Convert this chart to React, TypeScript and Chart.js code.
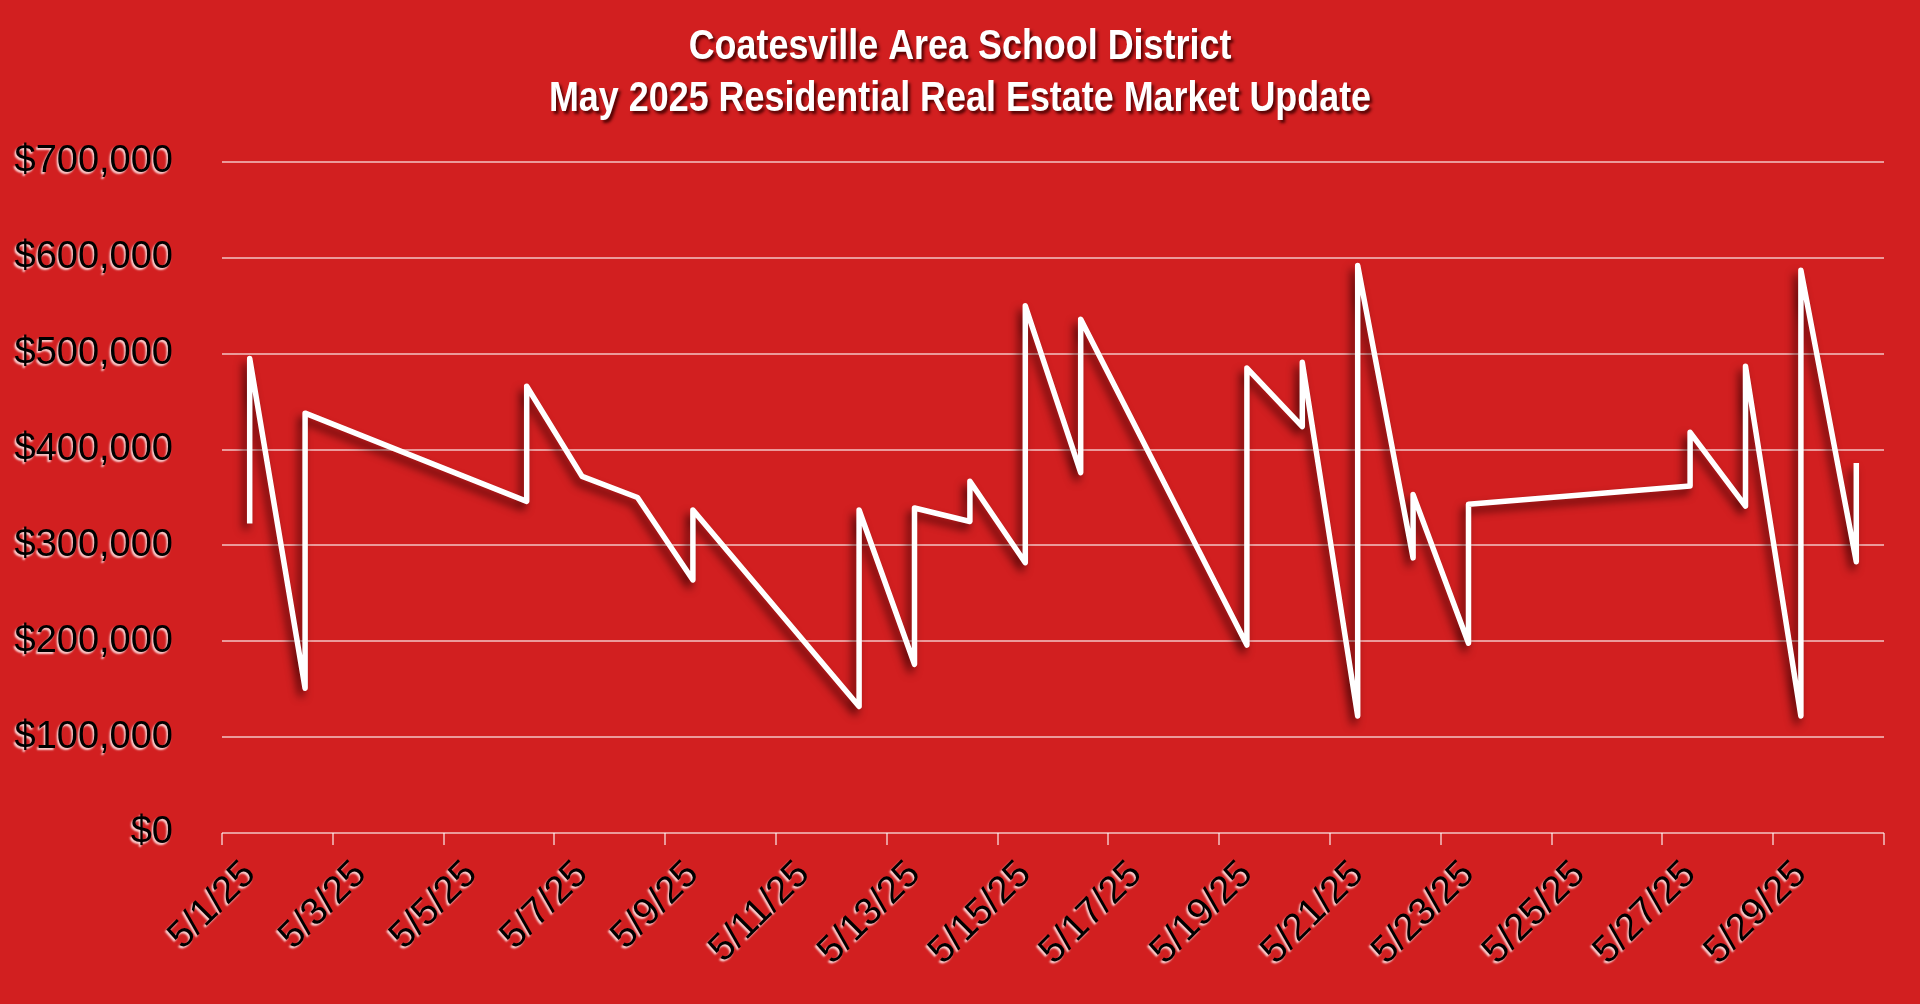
import React, { useEffect, useRef } from 'react';
import { Chart, registerables } from 'chart.js';

Chart.register(...registerables);

// ---- data ----
const TITLE_LINES = ['Coatesville Area School District', 'May 2025 Residential Real Estate Market Update'];

const DAY_LABELS = [
  '5/1/25', '5/2/25', '5/3/25', '5/4/25', '5/5/25', '5/6/25', '5/7/25', '5/8/25', '5/9/25', '5/10/25',
  '5/11/25', '5/12/25', '5/13/25', '5/14/25', '5/15/25', '5/16/25', '5/17/25', '5/18/25', '5/19/25', '5/20/25',
  '5/21/25', '5/22/25', '5/23/25', '5/24/25', '5/25/25', '5/26/25', '5/27/25', '5/28/25', '5/29/25', '5/30/25',
];

const SALE_DATES = [
  '5/1/25', '5/1/25', '5/2/25', '5/2/25', '5/6/25', '5/6/25', '5/7/25', '5/8/25', '5/9/25', '5/9/25',
  '5/12/25', '5/12/25', '5/13/25', '5/13/25', '5/14/25', '5/14/25', '5/15/25', '5/15/25', '5/16/25', '5/16/25',
  '5/19/25', '5/19/25', '5/20/25', '5/20/25', '5/21/25', '5/21/25', '5/22/25', '5/22/25', '5/23/25', '5/23/25',
  '5/27/25', '5/27/25', '5/28/25', '5/28/25', '5/29/25', '5/29/25', '5/30/25', '5/30/25',
];

const SALE_PRICES = [
  323000, 495000, 151000, 438000, 346000, 466000, 372000, 350000, 264000, 337000,
  132000, 337000, 176000, 339000, 325000, 367000, 282000, 550000, 376000, 536000,
  196000, 485000, 424000, 491000, 122000, 592000, 287000, 353000, 198000, 343000,
  362000, 418000, 341000, 487000, 122000, 587000, 283000, 386000,
];

const Y_MIN = 0;
const Y_MAX = 700000;
const Y_STEP = 100000;

// ---- styles ----
const BG = '#D21F20';
const GRID = 'rgba(255,255,255,0.55)';
const TITLE_FONT = "'Liberation Sans', Arial, sans-serif";
const TITLE_SQUEEZE = 0.835;
const AXIS_FONT = "'Liberation Sans', Arial, sans-serif";

const effectsPlugin = {
  id: 'effects',
  beforeDraw(chart: any) {
    const ctx = chart.ctx;
    ctx.save();
    ctx.fillStyle = BG;
    ctx.fillRect(0, 0, chart.width, chart.height);
    ctx.restore();
    Object.values(chart.scales).forEach((scale: any) => {
      if (scale.__wrapped) return;
      const orig = scale.drawLabels;
      scale.drawLabels = function (area: any) {
        const c = this.ctx;
        c.save();
        c.shadowColor = 'rgba(255,235,235,0.9)';
        c.shadowBlur = 2;
        c.shadowOffsetX = -1.5;
        c.shadowOffsetY = 2;
        orig.call(this, area);
        c.restore();
      };
      scale.__wrapped = true;
    });
    const tb = chart.titleBlock;
    if (tb && !tb.__wrapped) {
      const origT = tb.draw;
      tb.draw = function (area: any) {
        const c = this.ctx;
        const cx = (this.left + this.right) / 2;
        c.save();
        c.translate(this.chart.width / 2, 0);
        c.scale(TITLE_SQUEEZE, 1);
        c.translate(-cx, 0);
        c.shadowColor = 'rgba(70,0,0,0.9)';
        c.shadowBlur = 3;
        c.shadowOffsetX = 2.5;
        c.shadowOffsetY = 3;
        origT.call(this, area);
        c.restore();
      };
      tb.__wrapped = true;
    }
  },
  beforeDatasetsDraw(chart: any) {
    const ctx = chart.ctx;
    ctx.save();
    ctx.shadowColor = 'rgba(50,0,0,0.75)';
    ctx.shadowBlur = 9;
    ctx.shadowOffsetX = -4;
    ctx.shadowOffsetY = 6;
  },
  afterDatasetsDraw(chart: any) {
    chart.ctx.restore();
  },
};

export default function App() {
  const canvasRef = useRef<HTMLCanvasElement | null>(null);

  useEffect(() => {
    if (!canvasRef.current) return;
    const chart = new Chart(canvasRef.current, {
      type: 'line',
      data: {
        labels: DAY_LABELS,
        datasets: [
          {
            label: 'Sale Price',
            data: SALE_DATES.map((d, i) => ({ x: d, y: SALE_PRICES[i] })) as any,
            borderColor: '#FFFFFF',
            borderWidth: 5.5,
            pointRadius: 0,
            pointHoverRadius: 0,
            tension: 0,
            borderJoinStyle: 'round',
            fill: false,
          },
        ],
      },
      options: {
        animation: false,
        responsive: true,
        maintainAspectRatio: false,
        devicePixelRatio: 1,
        layout: { padding: { left: 0, right: 36, top: 0, bottom: 0 } },
        plugins: {
          legend: { display: false },
          tooltip: { enabled: false },
          title: {
            display: true,
            text: TITLE_LINES,
            color: '#FFFFFF',
            font: { family: TITLE_FONT, size: 43, weight: 'bold', lineHeight: 52 / 43 },
            padding: { top: 21.5, bottom: 36.5 },
          },
        },
        scales: {
          x: {
            type: 'category',
            offset: true,
            afterFit: (scale: any) => {
              scale.height = 171;
            },
            grid: {
              offset: true,
              drawOnChartArea: false,
              drawTicks: true,
              tickLength: 12,
              lineWidth: 2,
              color: (c: any) => (c.index === undefined || c.index % 2 === 0 ? GRID : 'rgba(0,0,0,0)'),
              tickColor: (c: any) => (c.index === undefined || c.index % 2 === 0 ? GRID : 'rgba(0,0,0,0)'),
            },
            border: { display: false },
            ticks: {
              autoSkip: false,
              minRotation: 45,
              maxRotation: 45,
              padding: 7,
              color: '#000000',
              font: { family: AXIS_FONT, size: 38 },
              callback: function (this: any, value: any, index: number) {
                return index % 2 === 0 ? this.getLabelForValue(value) : '';
              },
            },
          },
          y: {
            min: Y_MIN,
            max: Y_MAX,
            afterFit: (scale: any) => {
              scale.width = 222;
            },
            grid: { color: GRID, lineWidth: 2, drawTicks: false },
            border: { display: false },
            ticks: {
              stepSize: Y_STEP,
              padding: 49,
              color: '#000000',
              font: { family: AXIS_FONT, size: 38 },
              callback: (v: any) => '$' + Number(v).toLocaleString('en-US'),
            },
          },
        },
      },
      plugins: [effectsPlugin],
    });
    return () => chart.destroy();
  }, []);

  return (
    <div style={{ position: 'fixed', left: 0, top: 0, width: 1920, height: 1004, background: BG }}>
      <canvas ref={canvasRef} />
    </div>
  );
}
